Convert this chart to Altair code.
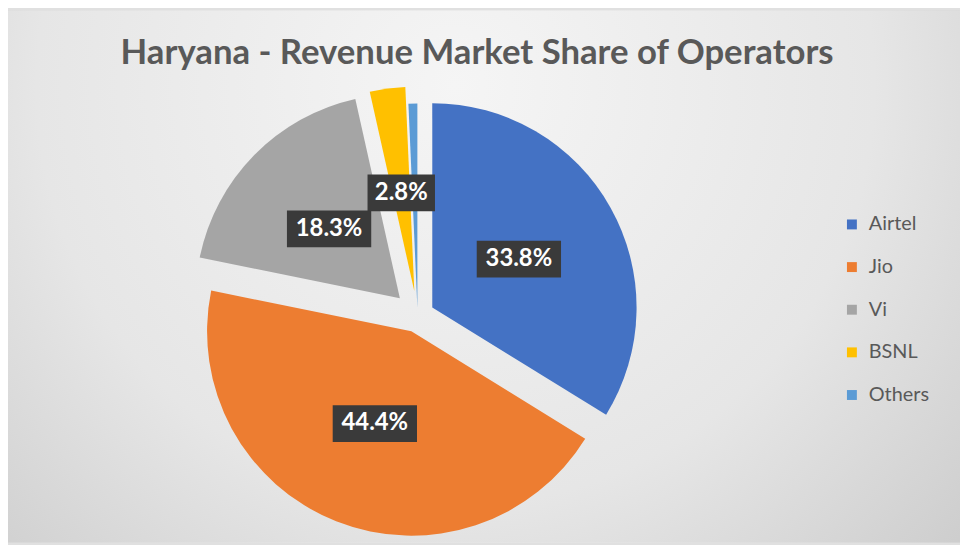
import altair as alt
import pandas as pd

# ---- data ----
operators = ["Airtel", "Jio", "Vi", "BSNL", "Others"]
shares = [33.8, 44.4, 18.3, 2.8, 0.7]
labels = ["33.8%", "44.4%", "18.3%", "2.8%", ""]

# ---- styles ----
colors = ["#4472C4", "#ED7D31", "#A5A5A5", "#FFC000", "#5B9BD5"]
explode = [17, 17, 25, 25, 8]
CX, CY, R, LR = 413, 308, 206, 100
W, H = 960, 537
FONT = "Lato"

df = pd.DataFrame({
    "operator": operators,
    "share": shares,
    "label": labels,
    "explode": explode,
    "idx": list(range(len(operators))),
})

base = alt.Chart(df).transform_window(
    cum="sum(share)", sort=[alt.SortField("idx")], frame=[None, 0]
).transform_calculate(
    t0="datum.cum - datum.share",
    t1="datum.cum",
    mid="(datum.cum - datum.share/2) * 2 * PI / 100",
).transform_calculate(
    px=f"{CX} + datum.explode * sin(datum.mid)",
    py=f"{CY} - datum.explode * cos(datum.mid)",
).transform_calculate(
    lx=f"datum.px + {LR} * sin(datum.mid)",
    ly=f"datum.py - {LR} * cos(datum.mid)",
)

bg = alt.Chart(pd.DataFrame({"a": [0]})).mark_rect(
    fill=alt.RadialGradient(
        gradient="radial",
        stops=[
            alt.GradientStop(color="#f5f5f5", offset=0),
            alt.GradientStop(color="#e6e6e6", offset=0.55),
            alt.GradientStop(color="#c6c6c6", offset=1),
        ],
        x1=0.47, y1=0.3, r1=0, x2=0.47, y2=0.3, r2=0.8,
    )
).encode(x=alt.value(0), x2=alt.value(W), y=alt.value(0), y2=alt.value(H))

arcs = base.mark_arc(radius=R).encode(
    x=alt.X("px:Q", scale=None),
    y=alt.Y("py:Q", scale=None),
    theta=alt.Theta("t0:Q", scale=alt.Scale(domain=[0, 100])),
    theta2="t1:Q",
    color=alt.Color(
        "operator:N",
        scale=alt.Scale(domain=operators, range=colors),
        sort=operators,
        legend=alt.Legend(
            title=None, orient="none", legendX=841, legendY=206,
            symbolType="square", symbolSize=100, symbolStrokeWidth=0,
            labelFont=FONT, labelFontSize=20, labelColor="#595959",
            rowPadding=23, labelOffset=7, padding=0,
        ),
    ),
)

lab = base.transform_filter("datum.label != ''")

boxes = lab.transform_calculate(
    bx0="datum.lx - length(datum.label) * 8.5",
    bx1="datum.lx + length(datum.label) * 8.5",
    by0="datum.ly - 18.5",
    by1="datum.ly + 18.5",
).mark_rect(fill="#3a3a3a").encode(
    x=alt.X("bx0:Q", scale=None), x2="bx1:Q",
    y=alt.Y("by0:Q", scale=None), y2="by1:Q",
)

texts = lab.mark_text(
    font=FONT, fontSize=24, fontWeight="bold", color="white",
    align="center", baseline="middle",
).encode(
    x=alt.X("lx:Q", scale=None),
    y=alt.Y("ly:Q", scale=None),
    text="label:N",
)

title = alt.Chart(pd.DataFrame({"t": ["Haryana - Revenue Market Share of Operators"]})).mark_text(
    font=FONT, fontSize=35, fontWeight="bold", color="#595959",
    align="center", baseline="alphabetic",
).encode(x=alt.value(473), y=alt.value(54), text="t:N")

chart = alt.layer(bg, arcs, boxes, texts, title).properties(
    width=W, height=H,
    autosize=alt.AutoSizeParams(type="none"),
    padding=0,
    background="#e0e0e0",
).configure_view(stroke=None)

chart.save("out.html", embed_options={"renderer": "svg", "actions": False})
